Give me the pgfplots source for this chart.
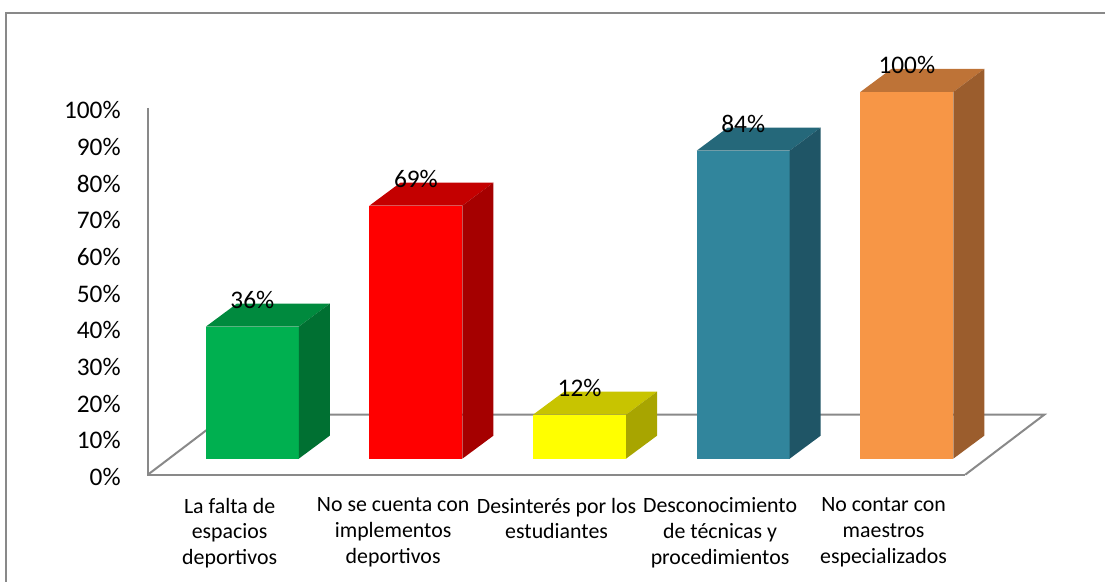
\documentclass[border=0pt]{standalone}
\usepackage{pgfplots}
\pgfplotsset{compat=1.18}
\usepackage{pgfplotstable}
\usepackage{fontspec}
\setmainfont{Carlito}

\definecolor{grnF}{RGB}{0,176,80}
\definecolor{grnT}{RGB}{0,138,62}
\definecolor{grnS}{RGB}{0,112,50}
\definecolor{redF}{RGB}{255,0,0}
\definecolor{redT}{RGB}{196,0,0}
\definecolor{redS}{RGB}{165,0,0}
\definecolor{yelF}{RGB}{255,255,0}
\definecolor{yelT}{RGB}{200,196,0}
\definecolor{yelS}{RGB}{168,165,0}
\definecolor{tealF}{RGB}{49,133,156}
\definecolor{tealT}{RGB}{37,104,122}
\definecolor{tealS}{RGB}{31,85,102}
\definecolor{orgF}{RGB}{247,150,70}
\definecolor{orgT}{RGB}{190,115,55}
\definecolor{orgS}{RGB}{155,93,45}
\definecolor{lineGray}{RGB}{137,137,137}

% x = bar front centre (px), v = value (%)
\pgfplotstableread{
x      v
252.5  36
416.25 69
580    12
743.75 84
907.5  100
}\datatable

% 3D bar: #1 centre, #2 value, #3 front, #4 top, #5 side colour
\newcommand{\barthreed}[5]{%
 \pgfmathsetmacro\xl{#1-46.5}%
 \pgfmathsetmacro\xr{#1+46.5}%
 \pgfmathsetmacro\xlb{#1-46.5+31}%
 \pgfmathsetmacro\xrb{#1+46.5+31}%
 \pgfmathsetmacro\yb{4.36}%
 \pgfmathsetmacro\yt{4.36+#2}%
 \pgfmathsetmacro\ybb{4.36+6.27}%
 \pgfmathsetmacro\ytb{4.36+6.27+#2}%
 \edef\temp{%
  \noexpand\addplot[draw=none, fill=#3] coordinates {(\xl,\yb) (\xr,\yb) (\xr,\yt) (\xl,\yt)};
  \noexpand\addplot[draw=none, fill=#4] coordinates {(\xl,\yt) (\xr,\yt) (\xrb,\ytb) (\xlb,\ytb)};
  \noexpand\addplot[draw=none, fill=#5] coordinates {(\xr,\yb) (\xrb,\ybb) (\xrb,\ytb) (\xr,\yt)};
 }\temp
}

\begin{document}
\begin{tikzpicture}
\begin{axis}[
  scale only axis,
  width=829.5pt, height=436.5pt,
  xmin=0, xmax=1106,
  ymin=-29.155, ymax=129.43,
  clip=false,
  axis line style={draw=none},
  tick style={draw=none},
  ytick={0,10,...,100},
  yticklabels={0\%,10\%,20\%,30\%,40\%,50\%,60\%,70\%,80\%,90\%,100\%},
  yticklabel style={anchor=east, inner sep=0pt, xshift=90.75pt, yshift=-1.8pt, font=\fontsize{19}{23}\selectfont},
  xtick={229.8,393.4,557,720.6,884.2},
  xticklabels={{La falta de\\espacios\\deportivos},{No se cuenta con\\implementos\\deportivos},{Desinterés por los\\estudiantes},{Desconocimiento\\de técnicas y\\procedimientos},{No contar con\\maestros\\especializados}},
  xticklabel style={anchor=north, align=center, inner sep=0pt, yshift=63pt, font=\fontsize{16.4}{19.2}\selectfont},
  /pgf/number format/assume math mode=true,
]
% chart frame
\addplot[draw=lineGray, line width=1.2pt] coordinates {(6,-29.155) (6,125.89) (1106,125.89)};
% wall and floor
\addplot[draw=lineGray, line width=1.5pt] coordinates {(148,100) (148,0) (966,0)};
\addplot[draw=lineGray, line width=1.5pt] coordinates {(148,0) (227,16.35) (1045,16.35) (966,0)};
% bars
\barthreed{252.5}{36}{grnF}{grnT}{grnS}
\barthreed{416.25}{69}{redF}{redT}{redS}
\barthreed{580}{12}{yelF}{yelT}{yelS}
\barthreed{743.75}{84}{tealF}{tealT}{tealS}
\barthreed{907.5}{100}{orgF}{orgT}{orgS}
% value labels
\addplot[draw=none, mark=none, point meta=explicit,
  nodes near coords={\pgfmathprintnumber{\pgfplotspointmeta}\%},
  every node near coord/.append style={anchor=center, inner sep=0pt, font=\fontsize{19}{23}\selectfont, text=black}]
  table[x=x, y expr=\thisrow{v}+11.7, meta=v] {\datatable};
\end{axis}
\end{tikzpicture}
\end{document}
